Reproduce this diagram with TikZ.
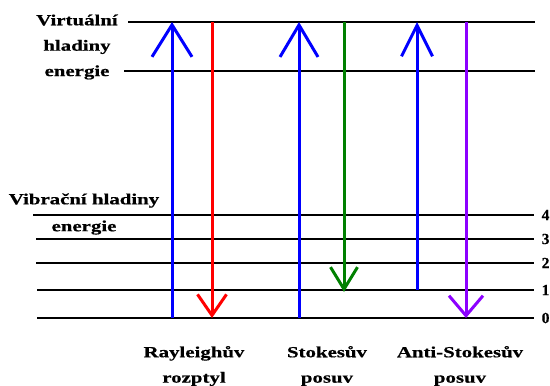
\documentclass[tikz,border=0pt]{standalone}
\usepackage{fontspec}
\setmainfont[FakeStretch=1.35,BoldFeatures={FakeBold=0.6}]{Liberation Serif}
\newfontfamily\numfont[BoldFeatures={FakeBold=0.6}]{Liberation Serif}
\usetikzlibrary{arrows.meta}
\definecolor{myblue}{RGB}{0,0,255}
\definecolor{myred}{RGB}{255,0,0}
\definecolor{mygreen}{RGB}{0,128,0}
\definecolor{mypurple}{RGB}{140,0,255}
\begin{document}
\begin{tikzpicture}[x=1bp,y=-1bp,
  level/.style={line width=2bp,black},
  txt/.style={font=\fontsize{15.5}{25.5}\selectfont\bfseries,inner sep=0pt,align=center},
  lvlnum/.style={font=\numfont\fontsize{15.5}{18}\selectfont\bfseries,inner sep=0pt,anchor=west},
  trans/.style={line width=3bp}]
\useasboundingbox (0,0) rectangle (550,385);
% level endpoints
\coordinate (vtL) at (128,22);  \coordinate (vtR) at (535,22);
\coordinate (vbL) at (124,71);  \coordinate (vbR) at (535,71);
\coordinate (l4L) at (33,215);  \coordinate (l4R) at (534,215);
\coordinate (l3L) at (36,239);  \coordinate (l3R) at (534,239);
\coordinate (l2L) at (36,263);  \coordinate (l2R) at (534,263);
\coordinate (l1L) at (37,290);  \coordinate (l1R) at (534,290);
\coordinate (l0L) at (37,318);  \coordinate (l0R) at (534,318);
\foreach \n in {vt,vb,l4,l3,l2,l1,l0} \draw[level] (\n L) -- (\n R);
% level numbers
\node[lvlnum] (n4) at (541.5,215) {4};
\node[lvlnum] (n3) at (541.5,239) {3};
\node[lvlnum] (n2) at (541.5,263) {2};
\node[lvlnum] (n1) at (541.5,290) {1};
\node[lvlnum] (n0) at (541.5,318) {0};
% texts
\node[txt] (virt) at (77,47) {Virtuální\\hladiny\\energie};
\node[txt,font=\fontsize{15.5}{27}\selectfont\bfseries] (vib) at (84,214) {Vibrační hladiny\\energie};
\node[txt] (ray) at (194,366) {Rayleighův\\rozptyl};
\node[txt] (sto) at (327,366) {Stokesův\\posuv};
\node[txt] (ant) at (460,366) {Anti-Stokesův\\posuv};
% transition points
\coordinate (b1s) at (172,318); \coordinate (b1e) at (172,22);
\coordinate (r1s) at (212,22);  \coordinate (r1e) at (212,318);
\coordinate (b2s) at (299,318); \coordinate (b2e) at (299,22);
\coordinate (g1s) at (344,22);  \coordinate (g1e) at (344,292);
\coordinate (b3s) at (417,290); \coordinate (b3e) at (417,22);
\coordinate (p1s) at (466,22);  \coordinate (p1e) at (466,318);
\draw[trans,myblue,-{Straight Barb[length=32bp,width=40bp,line width=3bp]}] (b1s) -- (b1e);
\draw[trans,myred,-{Straight Barb[length=21bp,width=29bp,line width=3bp]}] (r1s) -- (r1e);
\draw[trans,myblue,-{Straight Barb[length=32bp,width=38bp,line width=3bp]}] (b2s) -- (b2e);
\draw[trans,mygreen,-{Straight Barb[length=22bp,width=27bp,line width=3bp]}] (g1s) -- (g1e);
\draw[trans,myblue,-{Straight Barb[length=31bp,width=31bp,line width=3bp]}] (b3s) -- (b3e);
\draw[trans,mypurple,-{Straight Barb[length=20bp,width=34bp,line width=3bp]}] (p1s) -- (p1e);
\end{tikzpicture}
\end{document}
